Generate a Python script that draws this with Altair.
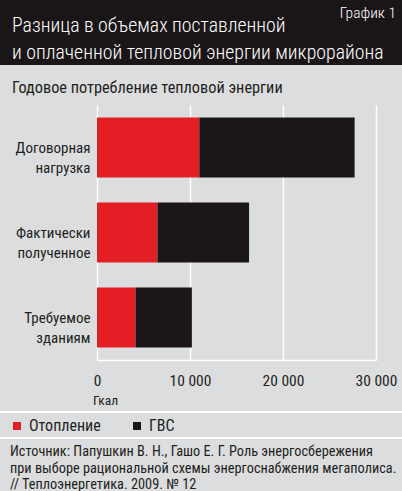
import altair as alt
import pandas as pd

categories = ["Договорная нагрузка", "Фактически полученное", "Требуемое зданиям"]
heating = [11000, 6500, 4150]
hot_water = [16700, 9850, 6050]
series = ["Отопление", "ГВС"]
colors = ["#e31e24", "#1b1718"]
x_ticks = [0, 10000, 20000, 30000]

title_lines = ["Разница в объемах поставленной", "и оплаченной тепловой энергии микрорайона"]
badge = "График 1"
subtitle = "Годовое потребление тепловой энергии"
unit = "Гкал"
source_lines = [
    "Источник: Папушкин В. Н., Гашо Е. Г. Роль энергосбережения",
    "при выборе рациональной схемы энергоснабжения мегаполиса.",
    "// Теплоэнергетика. 2009. № 12",
]

FONT = "Roboto Condensed"
BG = "#dcdddf"
INK = "#231f20"

L, T, W, H = 97, 105, 279, 255

rows = []
for c, a, b in zip(categories, heating, hot_water):
    rows.append({"cat": c, "series": series[0], "value": a, "ord": 0})
    rows.append({"cat": c, "series": series[1], "value": b, "ord": 1})
df = pd.DataFrame(rows)

bars = alt.Chart(df).mark_bar(size=60).encode(
    y=alt.Y("cat:N", sort=categories, title=None,
            scale=alt.Scale(paddingInner=0.3, paddingOuter=0.15),
            axis=alt.Axis(labelExpr="split(datum.value, ' ')", labelFont=FONT,
                          labelFontSize=15, labelColor=INK, labelLineHeight=20,
                          labelPadding=7, ticks=False, domain=False, labelLimit=200)),
    x=alt.X("value:Q", stack="zero", title=None,
            scale=alt.Scale(domain=[0, 30000], nice=False),
            axis=alt.Axis(values=x_ticks, labelExpr="replace(format(datum.value, ','), ',', ' ')",
                          labelFont=FONT, labelFontSize=15.5, labelColor=INK, labelPadding=13,
                          grid=True, gridColor="white", gridWidth=1.5, domainColor="white",
                          domainWidth=1.5, ticks=False, labelFlush=False)),
    color=alt.Color("series:N", sort=series, scale=alt.Scale(domain=series, range=colors),
                    legend=alt.Legend(title=None, orient="none", legendX=9 - L, legendY=418 - T,
                                      direction="horizontal", symbolType="square", symbolSize=64,
                                      symbolStrokeWidth=0, labelFont=FONT, labelFontSize=16,
                                      labelColor=INK, labelOffset=4, columnPadding=28)),
    order=alt.Order("ord:Q"),
)

one = pd.DataFrame({"k": [0]})

def txt(content, x, y, size, color=INK, align="left", baseline="alphabetic", lh=None, weight="normal"):
    kw = dict(text=content, font=FONT, fontSize=size, color=color, align=align,
              baseline=baseline, fontWeight=weight)
    if lh:
        kw["lineHeight"] = lh
    return alt.Chart(one).mark_text(**kw).encode(x=alt.value(x - L), y=alt.value(y - T))

header = alt.Chart(one).mark_rect(color="#1a1617").encode(
    x=alt.value(-L), x2=alt.value(402 - L), y=alt.value(-T), y2=alt.value(65 - T))

sep1 = alt.Chart(one).mark_rule(color="white", strokeWidth=2).encode(
    x=alt.value(-L), x2=alt.value(402 - L), y=alt.value(412 - T))
sep2 = alt.Chart(one).mark_rule(color="white", strokeWidth=2).encode(
    x=alt.value(-L), x2=alt.value(402 - L), y=alt.value(438 - T))

layers = [
    header,
    sep1, sep2,
    bars,
    txt(title_lines, 12, 32, 19.8, color="white", lh=27, weight=300),
    txt(badge, 396, 18, 15.5, color="white", align="right", weight=300),
    txt(subtitle, 12, 93, 16.3),
    txt(unit, 93, 405, 13.5),
    txt(source_lines, 10, 456, 14.3, lh=16.5),
]

chart = alt.layer(*layers).properties(
    width=W, height=H,
    autosize=alt.AutoSizeParams(type="none"),
    padding={"left": L, "top": T, "right": 402 - L - W, "bottom": 491 - T - H},
    background=BG,
).configure_view(stroke=None)

chart.save("out.html", embed_options={"renderer": "svg", "actions": False})
